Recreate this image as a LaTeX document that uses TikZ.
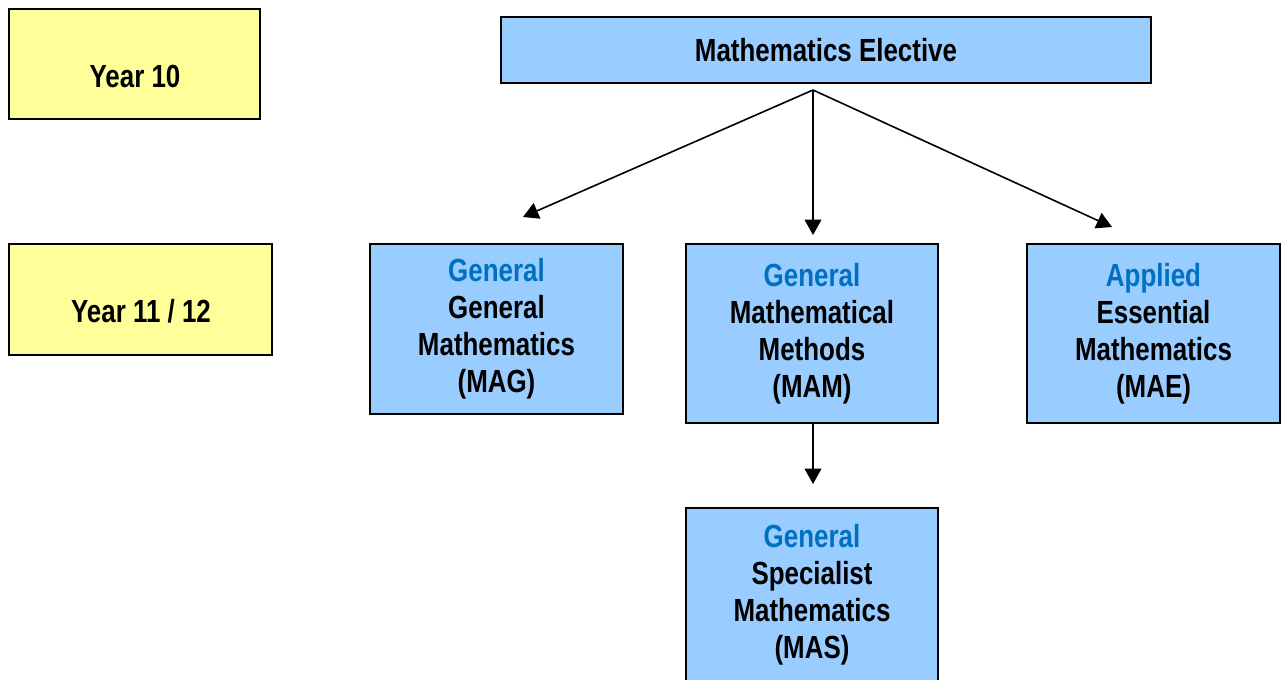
\documentclass[tikz,border=0pt]{standalone}
\usepackage{fontspec}
\setmainfont[FakeStretch=0.81]{Liberation Sans}
\usetikzlibrary{arrows.meta}
\definecolor{boxblue}{HTML}{99CCFF}
\definecolor{boxyellow}{HTML}{FFFF99}
\definecolor{txtblue}{HTML}{0070C0}
\tikzset{
  px/.style={x=0.75pt,y=-0.75pt},
  basebox/.style={draw=black, line width=1.4pt, inner sep=0pt, align=center,
    font=\bfseries\fontsize{24}{27.75}\selectfont},
  coursebox/.style={basebox, fill=boxblue},
  yearbox/.style={basebox, fill=boxyellow},
  ytext/.style={inner sep=0pt, anchor=base, font=\bfseries\fontsize{24}{27.75}\selectfont},
  conn/.style={line width=1.2pt, -{Triangle[length=11.5pt,width=12.5pt]}},
  sz/.style 2 args={minimum width=#1*0.75pt, minimum height=#2*0.75pt},
}
\begin{document}
\begin{tikzpicture}[px]
\useasboundingbox (0,0) rectangle (1281,679);
\clip (0,0) rectangle (1281,679);
\fill[white] (0,0) rectangle (1281,679);
% year boxes
\node[yearbox, sz={251}{110}] (y10) at (134.5,64) {};
\node[ytext] (y10t) at (135,87) {Year 10};
\node[yearbox, sz={263}{111}] (y11) at (140.5,299.5) {};
\node[ytext] (y11t) at (141,322) {Year 11 / 12};
% top box
\node[coursebox, sz={650}{66}] (elec) at (826,50) {Mathematics Elective};
% course boxes
\node[coursebox, sz={253}{170}] (mag) at (496.5,329)
  {{\color{txtblue}General}\\General\\Mathematics\\(MAG)};
\node[coursebox, sz={252}{179}] (mam) at (812,333.5)
  {{\color{txtblue}General}\\Mathematical\\Methods\\(MAM)};
\node[coursebox, sz={253}{179}] (mae) at (1153.5,333.5)
  {{\color{txtblue}Applied}\\Essential\\Mathematics\\(MAE)};
\node[coursebox, sz={252}{174}] (mas) at (812,595)
  {{\color{txtblue}General}\\Specialist\\Mathematics\\(MAS)};
% connectors
\coordinate (apex) at (813,90);
\coordinate (tipL) at (523,217);
\coordinate (tipC) at (813,235);
\coordinate (tipR) at (1112,227);
\coordinate (tipS) at (813,484);
\draw[conn] (apex) -- (tipL);
\draw[conn] (apex) -- (tipC);
\draw[conn] (apex) -- (tipR);
\draw[conn] (mam.south -| tipS) -- (tipS);
\end{tikzpicture}
\end{document}
